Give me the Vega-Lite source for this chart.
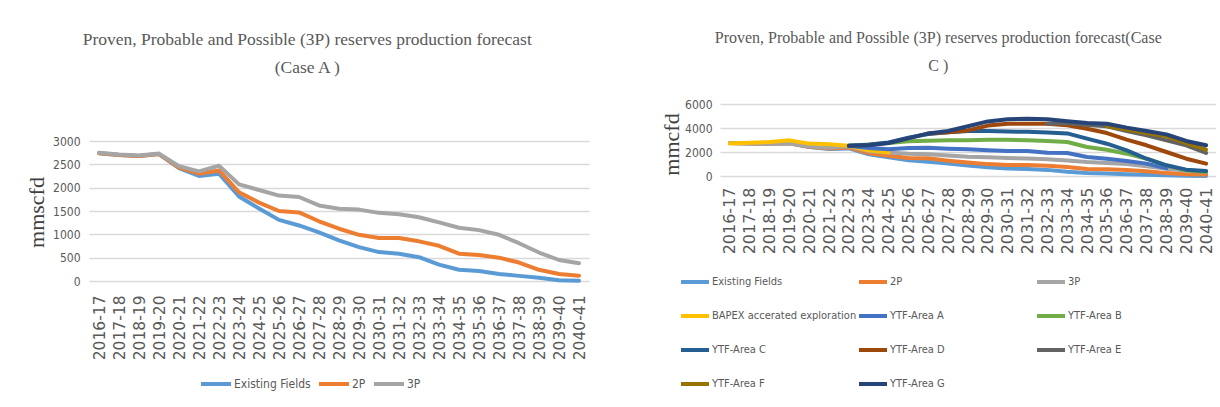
{
"$schema": "https://vega.github.io/schema/vega-lite/v6.json",
"background": "white",
"padding": {"left": 25, "top": 30, "right": 0, "bottom": 0},
"spacing": 71,
"datasets": {
"caseA": [
{"period":"2016-17","series":"Existing Fields","value":2740},{"period":"2017-18","series":"Existing Fields","value":2700},{"period":"2018-19","series":"Existing Fields","value":2680},{"period":"2019-20","series":"Existing Fields","value":2720},{"period":"2020-21","series":"Existing Fields","value":2420},{"period":"2021-22","series":"Existing Fields","value":2250},{"period":"2022-23","series":"Existing Fields","value":2300},{"period":"2023-24","series":"Existing Fields","value":1810},{"period":"2024-25","series":"Existing Fields","value":1555},{"period":"2025-26","series":"Existing Fields","value":1310},{"period":"2026-27","series":"Existing Fields","value":1190},{"period":"2027-28","series":"Existing Fields","value":1040},{"period":"2028-29","series":"Existing Fields","value":870},{"period":"2029-30","series":"Existing Fields","value":725},{"period":"2030-31","series":"Existing Fields","value":620},{"period":"2031-32","series":"Existing Fields","value":585},{"period":"2032-33","series":"Existing Fields","value":510},{"period":"2033-34","series":"Existing Fields","value":350},{"period":"2034-35","series":"Existing Fields","value":240},{"period":"2035-36","series":"Existing Fields","value":215},{"period":"2036-37","series":"Existing Fields","value":150},{"period":"2037-38","series":"Existing Fields","value":110},{"period":"2038-39","series":"Existing Fields","value":70},{"period":"2039-40","series":"Existing Fields","value":15},{"period":"2040-41","series":"Existing Fields","value":5},
{"period":"2016-17","series":"2P","value":2740},{"period":"2017-18","series":"2P","value":2700},{"period":"2018-19","series":"2P","value":2680},{"period":"2019-20","series":"2P","value":2720},{"period":"2020-21","series":"2P","value":2430},{"period":"2021-22","series":"2P","value":2300},{"period":"2022-23","series":"2P","value":2370},{"period":"2023-24","series":"2P","value":1900},{"period":"2024-25","series":"2P","value":1680},{"period":"2025-26","series":"2P","value":1500},{"period":"2026-27","series":"2P","value":1470},{"period":"2027-28","series":"2P","value":1280},{"period":"2028-29","series":"2P","value":1120},{"period":"2029-30","series":"2P","value":990},{"period":"2030-31","series":"2P","value":920},{"period":"2031-32","series":"2P","value":920},{"period":"2032-33","series":"2P","value":850},{"period":"2033-34","series":"2P","value":755},{"period":"2034-35","series":"2P","value":585},{"period":"2035-36","series":"2P","value":555},{"period":"2036-37","series":"2P","value":500},{"period":"2037-38","series":"2P","value":395},{"period":"2038-39","series":"2P","value":240},{"period":"2039-40","series":"2P","value":150},{"period":"2040-41","series":"2P","value":115},
{"period":"2016-17","series":"3P","value":2750},{"period":"2017-18","series":"3P","value":2710},{"period":"2018-19","series":"3P","value":2690},{"period":"2019-20","series":"3P","value":2730},{"period":"2020-21","series":"3P","value":2460},{"period":"2021-22","series":"3P","value":2350},{"period":"2022-23","series":"3P","value":2470},{"period":"2023-24","series":"3P","value":2070},{"period":"2024-25","series":"3P","value":1950},{"period":"2025-26","series":"3P","value":1830},{"period":"2026-27","series":"3P","value":1800},{"period":"2027-28","series":"3P","value":1620},{"period":"2028-29","series":"3P","value":1550},{"period":"2029-30","series":"3P","value":1530},{"period":"2030-31","series":"3P","value":1460},{"period":"2031-32","series":"3P","value":1430},{"period":"2032-33","series":"3P","value":1365},{"period":"2033-34","series":"3P","value":1255},{"period":"2034-35","series":"3P","value":1140},{"period":"2035-36","series":"3P","value":1090},{"period":"2036-37","series":"3P","value":990},{"period":"2037-38","series":"3P","value":810},{"period":"2038-39","series":"3P","value":610},{"period":"2039-40","series":"3P","value":450},{"period":"2040-41","series":"3P","value":380}
],
"caseC": [
{"period":"2016-17","series":"Existing Fields","value":2740},{"period":"2017-18","series":"Existing Fields","value":2700},{"period":"2018-19","series":"Existing Fields","value":2680},{"period":"2019-20","series":"Existing Fields","value":2720},{"period":"2020-21","series":"Existing Fields","value":2420},{"period":"2021-22","series":"Existing Fields","value":2250},{"period":"2022-23","series":"Existing Fields","value":2300},{"period":"2023-24","series":"Existing Fields","value":1810},{"period":"2024-25","series":"Existing Fields","value":1555},{"period":"2025-26","series":"Existing Fields","value":1310},{"period":"2026-27","series":"Existing Fields","value":1190},{"period":"2027-28","series":"Existing Fields","value":1040},{"period":"2028-29","series":"Existing Fields","value":870},{"period":"2029-30","series":"Existing Fields","value":725},{"period":"2030-31","series":"Existing Fields","value":620},{"period":"2031-32","series":"Existing Fields","value":585},{"period":"2032-33","series":"Existing Fields","value":510},{"period":"2033-34","series":"Existing Fields","value":350},{"period":"2034-35","series":"Existing Fields","value":240},{"period":"2035-36","series":"Existing Fields","value":215},{"period":"2036-37","series":"Existing Fields","value":150},{"period":"2037-38","series":"Existing Fields","value":110},{"period":"2038-39","series":"Existing Fields","value":70},{"period":"2039-40","series":"Existing Fields","value":15},{"period":"2040-41","series":"Existing Fields","value":5},
{"period":"2016-17","series":"2P","value":2740},{"period":"2017-18","series":"2P","value":2700},{"period":"2018-19","series":"2P","value":2680},{"period":"2019-20","series":"2P","value":2720},{"period":"2020-21","series":"2P","value":2430},{"period":"2021-22","series":"2P","value":2300},{"period":"2022-23","series":"2P","value":2370},{"period":"2023-24","series":"2P","value":1900},{"period":"2024-25","series":"2P","value":1680},{"period":"2025-26","series":"2P","value":1500},{"period":"2026-27","series":"2P","value":1470},{"period":"2027-28","series":"2P","value":1280},{"period":"2028-29","series":"2P","value":1120},{"period":"2029-30","series":"2P","value":990},{"period":"2030-31","series":"2P","value":920},{"period":"2031-32","series":"2P","value":920},{"period":"2032-33","series":"2P","value":850},{"period":"2033-34","series":"2P","value":755},{"period":"2034-35","series":"2P","value":585},{"period":"2035-36","series":"2P","value":555},{"period":"2036-37","series":"2P","value":500},{"period":"2037-38","series":"2P","value":395},{"period":"2038-39","series":"2P","value":240},{"period":"2039-40","series":"2P","value":150},{"period":"2040-41","series":"2P","value":115},
{"period":"2016-17","series":"3P","value":2750},{"period":"2017-18","series":"3P","value":2710},{"period":"2018-19","series":"3P","value":2690},{"period":"2019-20","series":"3P","value":2730},{"period":"2020-21","series":"3P","value":2460},{"period":"2021-22","series":"3P","value":2350},{"period":"2022-23","series":"3P","value":2470},{"period":"2023-24","series":"3P","value":2070},{"period":"2024-25","series":"3P","value":1950},{"period":"2025-26","series":"3P","value":1850},{"period":"2026-27","series":"3P","value":1820},{"period":"2027-28","series":"3P","value":1700},{"period":"2028-29","series":"3P","value":1600},{"period":"2029-30","series":"3P","value":1560},{"period":"2030-31","series":"3P","value":1500},{"period":"2031-32","series":"3P","value":1460},{"period":"2032-33","series":"3P","value":1400},{"period":"2033-34","series":"3P","value":1300},{"period":"2034-35","series":"3P","value":1170},{"period":"2035-36","series":"3P","value":1090},{"period":"2036-37","series":"3P","value":990},{"period":"2037-38","series":"3P","value":810},{"period":"2038-39","series":"3P","value":610},{"period":"2039-40","series":"3P","value":450},{"period":"2040-41","series":"3P","value":380},
{"period":"2016-17","series":"BAPEX accerated exploration","value":2700},{"period":"2017-18","series":"BAPEX accerated exploration","value":2780},{"period":"2018-19","series":"BAPEX accerated exploration","value":2830},{"period":"2019-20","series":"BAPEX accerated exploration","value":2970},{"period":"2020-21","series":"BAPEX accerated exploration","value":2700},{"period":"2021-22","series":"BAPEX accerated exploration","value":2640},{"period":"2022-23","series":"BAPEX accerated exploration","value":2520},{"period":"2023-24","series":"BAPEX accerated exploration","value":2140},{"period":"2024-25","series":"BAPEX accerated exploration","value":1950},
{"period":"2022-23","series":"YTF-Area A","value":2520},{"period":"2023-24","series":"YTF-Area A","value":2330},{"period":"2024-25","series":"YTF-Area A","value":2230},{"period":"2025-26","series":"YTF-Area A","value":2330},{"period":"2026-27","series":"YTF-Area A","value":2360},{"period":"2027-28","series":"YTF-Area A","value":2280},{"period":"2028-29","series":"YTF-Area A","value":2220},{"period":"2029-30","series":"YTF-Area A","value":2140},{"period":"2030-31","series":"YTF-Area A","value":2080},{"period":"2031-32","series":"YTF-Area A","value":2080},{"period":"2032-33","series":"YTF-Area A","value":1940},{"period":"2033-34","series":"YTF-Area A","value":1920},{"period":"2034-35","series":"YTF-Area A","value":1580},{"period":"2035-36","series":"YTF-Area A","value":1440},{"period":"2036-37","series":"YTF-Area A","value":1250},{"period":"2037-38","series":"YTF-Area A","value":1030},{"period":"2038-39","series":"YTF-Area A","value":650},
{"period":"2022-23","series":"YTF-Area B","value":2520},{"period":"2023-24","series":"YTF-Area B","value":2620},{"period":"2024-25","series":"YTF-Area B","value":2750},{"period":"2025-26","series":"YTF-Area B","value":2890},{"period":"2026-27","series":"YTF-Area B","value":2940},{"period":"2027-28","series":"YTF-Area B","value":2970},{"period":"2028-29","series":"YTF-Area B","value":2980},{"period":"2029-30","series":"YTF-Area B","value":3030},{"period":"2030-31","series":"YTF-Area B","value":3030},{"period":"2031-32","series":"YTF-Area B","value":2970},{"period":"2032-33","series":"YTF-Area B","value":2920},{"period":"2033-34","series":"YTF-Area B","value":2830},{"period":"2034-35","series":"YTF-Area B","value":2420},{"period":"2035-36","series":"YTF-Area B","value":2190},{"period":"2036-37","series":"YTF-Area B","value":1860},{"period":"2037-38","series":"YTF-Area B","value":1440},{"period":"2038-39","series":"YTF-Area B","value":890},{"period":"2039-40","series":"YTF-Area B","value":470},{"period":"2040-41","series":"YTF-Area B","value":330},
{"period":"2022-23","series":"YTF-Area C","value":2520},{"period":"2023-24","series":"YTF-Area C","value":2600},{"period":"2024-25","series":"YTF-Area C","value":2800},{"period":"2025-26","series":"YTF-Area C","value":3200},{"period":"2026-27","series":"YTF-Area C","value":3500},{"period":"2027-28","series":"YTF-Area C","value":3650},{"period":"2028-29","series":"YTF-Area C","value":3750},{"period":"2029-30","series":"YTF-Area C","value":3750},{"period":"2030-31","series":"YTF-Area C","value":3700},{"period":"2031-32","series":"YTF-Area C","value":3680},{"period":"2032-33","series":"YTF-Area C","value":3620},{"period":"2033-34","series":"YTF-Area C","value":3550},{"period":"2034-35","series":"YTF-Area C","value":3110},{"period":"2035-36","series":"YTF-Area C","value":2690},{"period":"2036-37","series":"YTF-Area C","value":2140},{"period":"2037-38","series":"YTF-Area C","value":1440},{"period":"2038-39","series":"YTF-Area C","value":890},{"period":"2039-40","series":"YTF-Area C","value":530},{"period":"2040-41","series":"YTF-Area C","value":420},
{"period":"2026-27","series":"YTF-Area D","value":3550},{"period":"2027-28","series":"YTF-Area D","value":3650},{"period":"2028-29","series":"YTF-Area D","value":3800},{"period":"2029-30","series":"YTF-Area D","value":4200},{"period":"2030-31","series":"YTF-Area D","value":4360},{"period":"2031-32","series":"YTF-Area D","value":4360},{"period":"2032-33","series":"YTF-Area D","value":4360},{"period":"2033-34","series":"YTF-Area D","value":4220},{"period":"2034-35","series":"YTF-Area D","value":3940},{"period":"2035-36","series":"YTF-Area D","value":3580},{"period":"2036-37","series":"YTF-Area D","value":3030},{"period":"2037-38","series":"YTF-Area D","value":2560},{"period":"2038-39","series":"YTF-Area D","value":2000},{"period":"2039-40","series":"YTF-Area D","value":1440},{"period":"2040-41","series":"YTF-Area D","value":1030},
{"period":"2032-33","series":"YTF-Area E","value":4360},{"period":"2033-34","series":"YTF-Area E","value":4420},{"period":"2034-35","series":"YTF-Area E","value":4250},{"period":"2035-36","series":"YTF-Area E","value":4140},{"period":"2036-37","series":"YTF-Area E","value":3750},{"period":"2037-38","series":"YTF-Area E","value":3390},{"period":"2038-39","series":"YTF-Area E","value":2970},{"period":"2039-40","series":"YTF-Area E","value":2560},{"period":"2040-41","series":"YTF-Area E","value":1920},
{"period":"2035-36","series":"YTF-Area F","value":4140},{"period":"2036-37","series":"YTF-Area F","value":3880},{"period":"2037-38","series":"YTF-Area F","value":3580},{"period":"2038-39","series":"YTF-Area F","value":3310},{"period":"2039-40","series":"YTF-Area F","value":2750},{"period":"2040-41","series":"YTF-Area F","value":2200},
{"period":"2022-23","series":"YTF-Area G","value":2520},{"period":"2023-24","series":"YTF-Area G","value":2560},{"period":"2024-25","series":"YTF-Area G","value":2750},{"period":"2025-26","series":"YTF-Area G","value":3150},{"period":"2026-27","series":"YTF-Area G","value":3550},{"period":"2027-28","series":"YTF-Area G","value":3750},{"period":"2028-29","series":"YTF-Area G","value":4150},{"period":"2029-30","series":"YTF-Area G","value":4550},{"period":"2030-31","series":"YTF-Area G","value":4720},{"period":"2031-32","series":"YTF-Area G","value":4780},{"period":"2032-33","series":"YTF-Area G","value":4720},{"period":"2033-34","series":"YTF-Area G","value":4560},{"period":"2034-35","series":"YTF-Area G","value":4420},{"period":"2035-36","series":"YTF-Area G","value":4360},{"period":"2036-37","series":"YTF-Area G","value":4030},{"period":"2037-38","series":"YTF-Area G","value":3750},{"period":"2038-39","series":"YTF-Area G","value":3470},{"period":"2039-40","series":"YTF-Area G","value":2920},{"period":"2040-41","series":"YTF-Area G","value":2560}
]
},
"hconcat": [
{
"width": 500, "height": 177,
"title": {"text": ["Proven, Probable and Possible (3P) reserves production forecast", "(Case A )"], "offset": 28, "fontSize": 17.5},
"data": {"name": "caseA"},
"mark": {"type": "line", "strokeWidth": 4, "strokeCap": "round", "strokeJoin": "round"},
"encoding": {
"x": {"field": "period", "type": "ordinal", "sort": null, "scale": {"type": "point", "padding": 0.5}, "axis": {"title": null, "labelAngle": -90, "labelPadding": 14, "labelFontSize": 15.5}},
"y": {"field": "value", "type": "quantitative", "scale": {"domain": [0, 3793], "nice": false}, "axis": {"title": "mmscfd", "titleY": 108, "values": [0, 500, 1000, 1500, 2000, 2500, 3000], "format": "d", "labelPadding": 9, "titlePadding": 4}},
"color": {"field": "series", "type": "nominal", "sort": null,
"scale": {"domain": ["Existing Fields", "2P", "3P"], "range": ["#5B9BD5", "#ED7D31", "#A5A5A5"]},
"legend": {"orient": "none", "legendX": 110, "legendY": 263, "direction": "horizontal", "columnPadding": 0, "labelFontSize": 12, "symbolSize": 900}}
}
},
{
"width": 496, "height": 72,
"title": {"text": ["Proven, Probable and Possible (3P) reserves production forecast(Case", "C )"], "offset": 24, "fontSize": 16},
"data": {"name": "caseC"},
"mark": {"type": "line", "strokeWidth": 4, "strokeCap": "round", "strokeJoin": "round"},
"encoding": {
"x": {"field": "period", "type": "ordinal", "sort": null, "scale": {"type": "point", "padding": 0.5}, "axis": {"title": null, "labelAngle": -90, "labelPadding": 11, "labelFontSize": 16}},
"y": {"field": "value", "type": "quantitative", "scale": {"domain": [0, 6000]}, "axis": {"title": "mmcfd", "titleY": 40, "values": [0, 2000, 4000, 6000], "format": "d", "labelPadding": 8, "titlePadding": 1}},
"color": {"field": "series", "type": "nominal", "sort": null,
"scale": {"domain": ["Existing Fields", "2P", "3P", "BAPEX accerated exploration", "YTF-Area A", "YTF-Area B", "YTF-Area C", "YTF-Area D", "YTF-Area E", "YTF-Area F", "YTF-Area G"],
"range": ["#5B9BD5", "#ED7D31", "#A5A5A5", "#FFC000", "#4472C4", "#70AD47", "#255E91", "#9E480E", "#636363", "#997300", "#264478"]},
"legend": {"orient": "none", "legendX": -41, "legendY": 162, "direction": "horizontal", "columns": 3, "gridAlign": "all", "columnPadding": -11, "rowPadding": 10, "labelFontSize": 11, "symbolSize": 784}}
}
}
],
"resolve": {"scale": {"color": "independent"}, "legend": {"color": "independent"}},
"config": {
"view": {"stroke": null},
"font": "'DejaVu Sans Condensed', 'Liberation Sans Narrow', 'Liberation Sans', sans-serif",
"title": {"font": "Liberation Serif", "fontWeight": "normal", "color": "#595959", "lineHeight": 28, "frame": "bounds", "anchor": "middle"},
"axis": {"domain": false, "ticks": false, "labelColor": "#595959", "titleColor": "#404040", "gridColor": "#d9d9d9", "gridWidth": 1.3, "titleFont": "Liberation Serif", "titleFontSize": 22, "titleFontWeight": "normal"},
"axisX": {"grid": false, "labelFont": "DejaVu Sans"},
"axisY": {"grid": true, "labelFont": "'DejaVu Sans Condensed', 'Liberation Sans Narrow', 'Liberation Sans', sans-serif", "labelFontSize": 12},
"legend": {"title": null, "symbolType": "stroke", "symbolStrokeWidth": 4, "labelFont": "'DejaVu Sans Condensed', 'Liberation Sans Narrow', 'Liberation Sans', sans-serif", "labelColor": "#595959", "labelOffset": 1, "labelLimit": 300}
}
}
